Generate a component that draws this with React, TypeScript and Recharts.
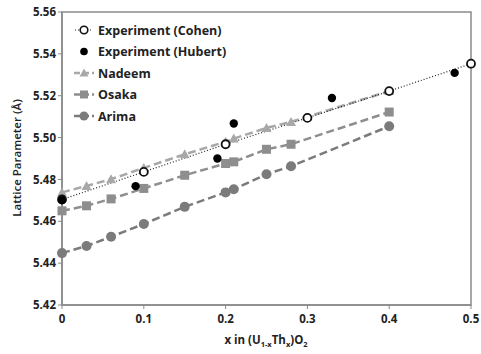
import {
  ComposedChart,
  Line,
  Scatter,
  XAxis,
  YAxis,
  ReferenceArea,
} from "recharts";

const xTicks = [0, 0.1, 0.2, 0.3, 0.4, 0.5];
const yTicks = [5.42, 5.44, 5.46, 5.48, 5.5, 5.52, 5.54, 5.56];

const cohenX = [0, 0.1, 0.2, 0.3, 0.4, 0.5];
const cohenY = [5.4704, 5.4836, 5.4968, 5.5094, 5.5222, 5.5353];

const hubertX = [0, 0.09, 0.19, 0.21, 0.33, 0.48];
const hubertY = [5.4701, 5.4768, 5.49, 5.5067, 5.5189, 5.5309];

const calcX = [0, 0.03, 0.06, 0.1, 0.15, 0.2, 0.21, 0.25, 0.28, 0.4];
const nadeemY = [5.4738, 5.4769, 5.4801, 5.4855, 5.492, 5.498, 5.4995, 5.5046, 5.5075, 5.5222];
const osakaY = [5.465, 5.4674, 5.4707, 5.4757, 5.482, 5.4876, 5.4884, 5.4944, 5.4968, 5.5122];
const arimaY = [5.4448, 5.4482, 5.4526, 5.4587, 5.4669, 5.4738, 5.4753, 5.4825, 5.4863, 5.5054];

const zip = (xs: number[], ys: number[]) => xs.map((x, i) => ({ x, y: ys[i] }));

const cohen = zip(cohenX, cohenY);
const hubert = zip(hubertX, hubertY);
const nadeem = zip(calcX, nadeemY);
const osaka = zip(calcX, osakaY);
const arima = zip(calcX, arimaY);

const NADEEM = "#a8a8a8";
const OSAKA = "#8e8e8e";
const ARIMA = "#7b7b7b";
const AXIS = "#8a8a8a";
const FONT = "'Open Sans', 'Liberation Sans', sans-serif";

function Triangle({ cx, cy, fill, size = 5 }: any) {
  if (cx == null || cy == null) return null;
  return (
    <polygon
      points={`${cx},${cy - size} ${cx - size},${cy + size * 0.8} ${cx + size},${cy + size * 0.8}`}
      fill={fill}
    />
  );
}

function Square({ cx, cy, fill, size = 4.5 }: any) {
  if (cx == null || cy == null) return null;
  return <rect x={cx - size} y={cy - size} width={size * 2} height={size * 2} fill={fill} />;
}

function Circle({ cx, cy, fill, r = 5, stroke = "none", strokeWidth = 0 }: any) {
  if (cx == null || cy == null) return null;
  return <circle cx={cx} cy={cy} r={r} fill={fill} stroke={stroke} strokeWidth={strokeWidth} />;
}

const legendItems = [
  { label: "Experiment (Cohen)", kind: "cohen" },
  { label: "Experiment (Hubert)", kind: "hubert" },
  { label: "Nadeem", kind: "nadeem" },
  { label: "Osaka", kind: "osaka" },
  { label: "Arima", kind: "arima" },
];

function LegendBox() {
  return (
    <svg width={200} height={110} style={{ position: "absolute", left: 72, top: 19 }}>
      {legendItems.map((it, i) => {
        const y = 11 + i * 21.5;
        let sym = null;
        if (it.kind === "cohen") {
          sym = (
            <g>
              <line x1={3} x2={21} y1={y} y2={y} stroke="#222" strokeWidth={1.2} strokeDasharray="1 2" />
              <circle cx={12} cy={y} r={3.8} fill="#fff" stroke="#111" strokeWidth={1.6} />
            </g>
          );
        } else if (it.kind === "hubert") {
          sym = <circle cx={12} cy={y} r={3.8} fill="#000" />;
        } else {
          const c = it.kind === "nadeem" ? NADEEM : it.kind === "osaka" ? OSAKA : ARIMA;
          sym = (
            <g>
              <line x1={2} x2={22} y1={y} y2={y} stroke={c} strokeWidth={2.5} strokeDasharray="6 3" />
              {it.kind === "nadeem" && <Triangle cx={12} cy={y} fill={c} size={4.5} />}
              {it.kind === "osaka" && <Square cx={12} cy={y} fill={c} size={4} />}
              {it.kind === "arima" && <Circle cx={12} cy={y} fill={c} r={4.5} />}
            </g>
          );
        }
        return (
          <g key={it.label}>
            {sym}
            <text x={26} y={y + 4.5} fontFamily={FONT} fontWeight={700} fontSize={12.5} fill="#222">
              {it.label}
            </text>
          </g>
        );
      })}
    </svg>
  );
}

function AxisTitles() {
  return (
    <svg width={481} height={354} style={{ position: "absolute", left: 0, top: 0, pointerEvents: "none" }}>
      <text x={266} y={344} textAnchor="middle" fontFamily={FONT} fontWeight={700} fontSize={11.5} fill="#222">
        x in (U
        <tspan fontSize={7.5} dy={3}>1-x</tspan>
        <tspan dy={-3}>Th</tspan>
        <tspan fontSize={7.5} dy={3}>x</tspan>
        <tspan dy={-3}>)O</tspan>
        <tspan fontSize={7.5} dy={3}>2</tspan>
      </text>
      <text
        x={0}
        y={0}
        transform="translate(21,158) rotate(-90)"
        textAnchor="middle"
        fontFamily={FONT}
        fontWeight={600}
        fontSize={11.5}
        fill="#222"
      >
        Lattice Parameter (Å)
      </text>
    </svg>
  );
}

export default function App() {
  return (
    <div style={{ position: "fixed", left: 0, top: 0, width: 481, height: 354, background: "#fff" }}>
      <ComposedChart
        width={481}
        height={354}
        margin={{ top: 12, right: 10, left: 0, bottom: 0 }}
      >
        <XAxis
          type="number"
          dataKey="x"
          domain={[0, 0.5]}
          ticks={xTicks}
          height={49}
          tickSize={4}
          axisLine={{ stroke: AXIS, strokeWidth: 1.5 }}
          tickLine={{ stroke: AXIS }}
          tick={{ fontSize: 11.5, fontFamily: FONT, fontWeight: 700, fill: "#222", dy: 4 }}
        />
        <YAxis
          type="number"
          domain={[5.42, 5.56]}
          ticks={yTicks}
          width={62}
          tickSize={4}
          axisLine={{ stroke: AXIS, strokeWidth: 1.5 }}
          tickLine={{ stroke: AXIS }}
          tickFormatter={(v: number) => v.toFixed(2)}
          tick={{ fontSize: 11.5, fontFamily: FONT, fontWeight: 700, fill: "#222" }}
        />
        <ReferenceArea
          x1={0}
          x2={0.5}
          y1={5.42}
          y2={5.56}
          fill="none"
          fillOpacity={0}
          stroke={AXIS}
          strokeWidth={1.5}
          ifOverflow="visible"
        />
        <Line
          data={arima}
          dataKey="y"
          stroke={ARIMA}
          strokeWidth={2.5}
          strokeDasharray="8 4"
          dot={(p: any) => <Circle key={`a${p.index}`} cx={p.cx} cy={p.cy} fill={ARIMA} r={5} />}
          activeDot={false}
          isAnimationActive={false}
        />
        <Line
          data={osaka}
          dataKey="y"
          stroke={OSAKA}
          strokeWidth={2.5}
          strokeDasharray="8 4"
          dot={(p: any) => <Square key={`o${p.index}`} cx={p.cx} cy={p.cy} fill={OSAKA} size={4.5} />}
          activeDot={false}
          isAnimationActive={false}
        />
        <Line
          data={nadeem}
          dataKey="y"
          stroke={NADEEM}
          strokeWidth={2.5}
          strokeDasharray="8 4"
          dot={(p: any) => <Triangle key={`n${p.index}`} cx={p.cx} cy={p.cy} fill={NADEEM} size={5} />}
          activeDot={false}
          isAnimationActive={false}
        />
        <Line
          data={cohen}
          dataKey="y"
          stroke="#222"
          strokeWidth={1.2}
          strokeDasharray="1 2"
          dot={(p: any) => (
            <Circle key={`c${p.index}`} cx={p.cx} cy={p.cy} fill="#fff" r={4} stroke="#111" strokeWidth={1.8} />
          )}
          activeDot={false}
          isAnimationActive={false}
        />
        <Scatter
          data={hubert}
          dataKey="y"
          fill="#000"
          shape={(p: any) => <Circle cx={p.cx} cy={p.cy} fill="#000" r={4.2} />}
          isAnimationActive={false}
        />
      </ComposedChart>
      <AxisTitles />
      <LegendBox />
    </div>
  );
}
